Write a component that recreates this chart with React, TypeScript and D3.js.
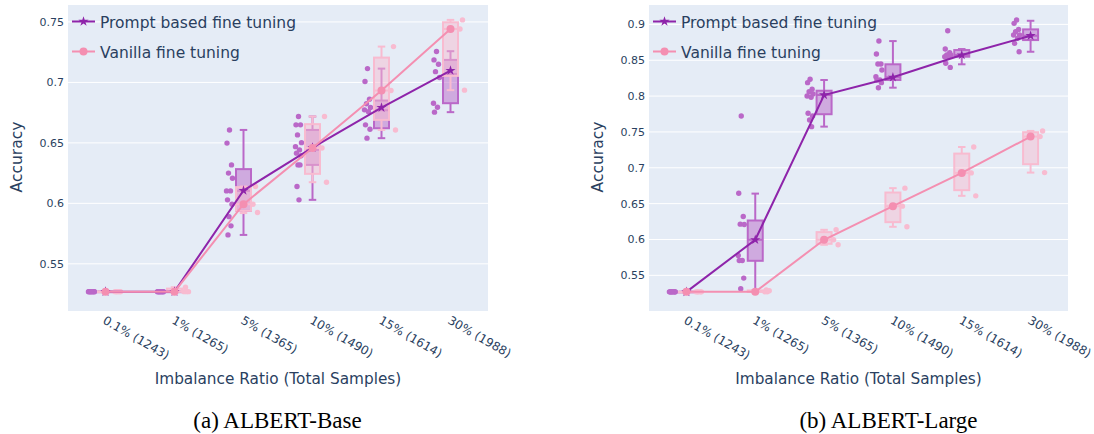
import React from "react";
import * as d3 from "d3";

// categories (imbalance ratio / total samples)
const categories = ["0.1% (1243)", "1% (1265)", "5% (1365)", "10% (1490)", "15% (1614)", "30% (1988)"];

const baseTicks = [0.55, 0.6, 0.65, 0.7, 0.75];
const baseTickLabels = ["0.55", "0.6", "0.65", "0.7", "0.75"];
const largeTicks = [0.55, 0.6, 0.65, 0.7, 0.75, 0.8, 0.85, 0.9];
const largeTickLabels = ["0.55", "0.6", "0.65", "0.7", "0.75", "0.8", "0.85", "0.9"];

// ALBERT-Base : per-run accuracies
const basePromptRuns = [
  [0.527, 0.527, 0.527, 0.527, 0.527, 0.527, 0.527, 0.527, 0.527, 0.527],
  [0.527, 0.527, 0.527, 0.527, 0.527, 0.527, 0.527, 0.527, 0.527, 0.527],
  [0.6607, 0.6498, 0.6318, 0.625, 0.6208, 0.6103, 0.6103, 0.6029, 0.5993, 0.589, 0.5814, 0.5739],
  [0.6718, 0.6649, 0.6649, 0.6566, 0.6502, 0.6469, 0.6442, 0.6415, 0.6393, 0.6318, 0.6318, 0.6139, 0.6029],
  [0.7114, 0.7007, 0.6861, 0.6823, 0.6792, 0.6773, 0.6758, 0.6649, 0.6613, 0.6539],
  [0.7255, 0.7186, 0.715, 0.7089, 0.704, 0.6828, 0.6795, 0.6754],
];
const baseVanillaRuns = [
  [0.527, 0.527, 0.527, 0.527, 0.527],
  [0.527, 0.527, 0.527, 0.5307],
  [0.6139, 0.5993, 0.5924],
  [0.6718, 0.6458, 0.6175],
  [0.7296, 0.6933, 0.6607],
  [0.7517, 0.7442, 0.6936],
];
// box stats: [low whisker, q1, median, q3, high whisker]
const basePromptBox = [
  [0.527, 0.527, 0.527, 0.527, 0.527],
  [0.527, 0.527, 0.527, 0.527, 0.527],
  [0.5739, 0.5938, 0.6103, 0.6283, 0.6607],
  [0.6029, 0.6318, 0.6442, 0.6607, 0.6718],
  [0.6539, 0.6621, 0.677, 0.685, 0.7114],
  [0.6754, 0.6828, 0.707, 0.7186, 0.7258],
];
const baseVanillaBox = [
  [0.527, 0.527, 0.527, 0.527, 0.527],
  [0.527, 0.527, 0.527, 0.5295, 0.5307],
  [0.592, 0.5938, 0.5993, 0.6134, 0.6139],
  [0.6175, 0.6244, 0.6458, 0.6655, 0.6718],
  [0.6607, 0.669, 0.6933, 0.7205, 0.7296],
  [0.6936, 0.7054, 0.7442, 0.7497, 0.7517],
];
const basePromptMean = [0.527, 0.527, 0.6106, 0.6461, 0.6792, 0.7098];
const baseVanillaMean = [0.527, 0.527, 0.5993, 0.6458, 0.6933, 0.7442];

// ALBERT-Large
const largePromptRuns = [
  [0.527, 0.527, 0.527, 0.527, 0.527, 0.527, 0.527, 0.527, 0.527, 0.527],
  [0.7723, 0.6646, 0.632, 0.6214, 0.621, 0.5777, 0.5707, 0.5707, 0.5462, 0.5313],
  [0.8234, 0.8187, 0.8095, 0.8061, 0.8029, 0.8001, 0.7983, 0.776, 0.7723, 0.7667, 0.7574],
  [0.8767, 0.8586, 0.8447, 0.8447, 0.8364, 0.827, 0.8224, 0.8224, 0.8187, 0.8117],
  [0.8911, 0.8656, 0.8604, 0.8572, 0.8572, 0.8549, 0.8549, 0.8457, 0.84],
  [0.906, 0.9014, 0.893, 0.8897, 0.8851, 0.8851, 0.8805, 0.8735, 0.8618],
];
const largeVanillaRuns = [
  [0.527, 0.527, 0.527, 0.527, 0.527],
  [0.527, 0.527, 0.5285, 0.5295],
  [0.6135, 0.5996, 0.5926],
  [0.6716, 0.6465, 0.6177],
  [0.729, 0.6929, 0.6609],
  [0.7514, 0.7435, 0.6933],
];
const largePromptBox = [
  [0.527, 0.527, 0.527, 0.527, 0.527],
  [0.529, 0.5703, 0.5996, 0.6265, 0.664],
  [0.7574, 0.7747, 0.8015, 0.8075, 0.8224],
  [0.8117, 0.8224, 0.8262, 0.8443, 0.8767],
  [0.8443, 0.8549, 0.8572, 0.8642, 0.8656],
  [0.8618, 0.8781, 0.8841, 0.893, 0.905],
];
const largeVanillaBox = [
  [0.527, 0.527, 0.527, 0.527, 0.527],
  [0.527, 0.527, 0.527, 0.529, 0.5295],
  [0.5926, 0.594, 0.5996, 0.6103, 0.6135],
  [0.6177, 0.6242, 0.6465, 0.6655, 0.6716],
  [0.6609, 0.6688, 0.6929, 0.7198, 0.729],
  [0.6933, 0.705, 0.7435, 0.7496, 0.7514],
];
const largePromptMean = [0.527, 0.5996, 0.8015, 0.8262, 0.8572, 0.8841];
const largeVanillaMean = [0.527, 0.527, 0.5996, 0.6465, 0.6929, 0.7435];

const FONT = "'DejaVu Sans', Verdana, sans-serif";
const TEXT = "#2a3f5f";
const PLOT_BG = "#E5ECF6";
const PURPLE_LINE = "#8E24AA";
const PURPLE = "#BA68C8";
const PINK_LINE = "#F48FB1";
const PINK = "#F8BBD0";

const jitter = [0, -2.5, 2, -1, 3, -3, 1, -2, 2.5, -0.5, 1.5, -1.5, 0.5];

const starPath = d3.symbol(d3.symbolStar, 32)() as string;

type Series = {
  runs: number[][];
  box: number[][];
  mean: number[];
};

function Boxes({ s, x, y, color, offset }: { s: Series; x: any; y: any; color: string; offset: number }) {
  const half = 7.5;
  return (
    <g>
      {s.box.map((b, i) => {
        const cx = x(categories[i]) + x.bandwidth() / 2;
        const [lo, q1, med, q3, hi] = b;
        return (
          <g key={i}>
            <line x1={cx} x2={cx} y1={y(q3)} y2={y(hi)} stroke={color} strokeWidth={2} />
            <line x1={cx} x2={cx} y1={y(q1)} y2={y(lo)} stroke={color} strokeWidth={2} />
            <line x1={cx - half / 2} x2={cx + half / 2} y1={y(hi)} y2={y(hi)} stroke={color} strokeWidth={2} />
            <line x1={cx - half / 2} x2={cx + half / 2} y1={y(lo)} y2={y(lo)} stroke={color} strokeWidth={2} />
            <rect
              x={cx - half}
              width={half * 2}
              y={y(q3)}
              height={Math.max(0.5, y(q1) - y(q3))}
              fill={color}
              fillOpacity={0.5}
              stroke={color}
              strokeWidth={2}
            />
            <line x1={cx - half} x2={cx + half} y1={y(med)} y2={y(med)} stroke={color} strokeWidth={2} />
            {s.runs[i].map((v, j) => (
              <circle key={j} cx={cx + offset + jitter[j % jitter.length]} cy={y(v)} r={2.7} fill={color} />
            ))}
          </g>
        );
      })}
    </g>
  );
}

function Panel(props: {
  left: number;
  right: number;
  yDomain: [number, number];
  ticks: number[];
  tickLabels: string[];
  prompt: Series;
  vanilla: Series;
  caption: string;
  captionX: number;
}) {
  const top = 5, bottom = 311;
  const { left, right } = props;
  const x = d3.scaleBand().domain(categories).range([left + 3, right - 3]);
  const y = d3.scaleLinear().domain(props.yDomain).range([bottom, top]);
  const cx = (c: string) => (x(c) as number) + x.bandwidth() / 2;
  const line = d3
    .line<number>()
    .x((_, i) => cx(categories[i]))
    .y((d) => y(d));

  return (
    <g fontFamily={FONT}>
      <rect x={left} y={top} width={right - left} height={bottom - top} fill={PLOT_BG} />
      {props.ticks.map((t, i) => (
        <g key={t}>
          <line x1={left} x2={right} y1={y(t)} y2={y(t)} stroke="#fff" strokeWidth={1} />
          <text x={left - 4} y={y(t)} dy="0.36em" textAnchor="end" fontSize={11} fill={TEXT}>
            {props.tickLabels[i]}
          </text>
        </g>
      ))}
      {categories.map((c) => (
        <text
          key={c}
          transform={`translate(${cx(c) + 1},${315}) rotate(30)`}
          dy="0.75em"
          textAnchor="start"
          fontSize={12}
          fill={TEXT}
        >
          {c}
        </text>
      ))}
      <text x={(left + right) / 2} y={384} textAnchor="middle" fontSize={15.3} fill={TEXT}>
        Imbalance Ratio (Total Samples)
      </text>
      <text
        transform={`translate(${left - 51},${157}) rotate(-90)`}
        dy="0.35em"
        textAnchor="middle"
        fontSize={15.5}
        fill={TEXT}
      >
        Accuracy
      </text>

      <Boxes s={props.prompt} x={x} y={y} color={PURPLE} offset={-14} />
      <Boxes s={props.vanilla} x={x} y={y} color={PINK} offset={12} />

      <path d={line(props.prompt.mean) as string} fill="none" stroke={PURPLE_LINE} strokeWidth={2} />
      {props.prompt.mean.map((v, i) => (
        <path key={i} d={starPath} transform={`translate(${cx(categories[i])},${y(v)})`} fill={PURPLE_LINE} />
      ))}
      <path d={line(props.vanilla.mean) as string} fill="none" stroke={PINK_LINE} strokeWidth={2} />
      {props.vanilla.mean.map((v, i) => (
        <circle key={i} cx={cx(categories[i])} cy={y(v)} r={4} fill={PINK_LINE} />
      ))}

      {/* legend */}
      <g>
        <line x1={left + 4} x2={left + 27} y1={21.5} y2={21.5} stroke={PURPLE_LINE} strokeWidth={2} />
        <path d={starPath} transform={`translate(${left + 15.5},21.5)`} fill={PURPLE_LINE} />
        <text x={left + 32} y={27.5} fontSize={15.5} fill={TEXT}>
          Prompt based fine tuning
        </text>
        <line x1={left + 4} x2={left + 27} y1={51.5} y2={51.5} stroke={PINK_LINE} strokeWidth={2} />
        <circle cx={left + 15.5} cy={51.5} r={4} fill={PINK_LINE} />
        <text x={left + 32} y={57.5} fontSize={15.5} fill={TEXT}>
          Vanilla fine tuning
        </text>
      </g>

      <text
        x={props.captionX}
        y={428}
        textAnchor="middle"
        fontSize={23}
        fontFamily="'Liberation Serif', 'Times New Roman', serif"
        fill="#000"
      >
        {props.caption}
      </text>
    </g>
  );
}

export default function App() {
  return (
    <svg
      width={1094}
      height={434}
      style={{ position: "absolute", left: 0, top: 0, background: "#fff" }}
    >
      <Panel
        left={68}
        right={488}
        yDomain={[0.511, 0.764]}
        ticks={baseTicks}
        tickLabels={baseTickLabels}
        prompt={{ runs: basePromptRuns, box: basePromptBox, mean: basePromptMean }}
        vanilla={{ runs: baseVanillaRuns, box: baseVanillaBox, mean: baseVanillaMean }}
        caption="(a) ALBERT-Base"
        captionX={277.5}
      />
      <Panel
        left={649}
        right={1068}
        yDomain={[0.5003, 0.927]}
        ticks={largeTicks}
        tickLabels={largeTickLabels}
        prompt={{ runs: largePromptRuns, box: largePromptBox, mean: largePromptMean }}
        vanilla={{ runs: largeVanillaRuns, box: largeVanillaBox, mean: largeVanillaMean }}
        caption="(b) ALBERT-Large"
        captionX={888.5}
      />
    </svg>
  );
}
